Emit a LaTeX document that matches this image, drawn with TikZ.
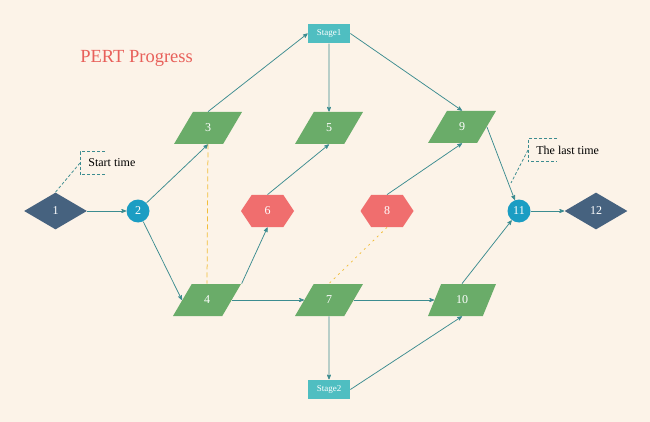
\documentclass[tikz,border=0pt]{standalone}
\usepackage{fontspec}
\setmainfont{Liberation Serif}
\usetikzlibrary{arrows,shapes.geometric,shapes.symbols}
\definecolor{bgcream}{HTML}{FCF3E8}
\definecolor{navyend}{HTML}{46627F}
\definecolor{bluering}{HTML}{1B9DC3}
\definecolor{taskgreen}{HTML}{6AAC69}
\definecolor{critred}{HTML}{F06E6E}
\definecolor{stageteal}{HTML}{4FBEC1}
\definecolor{edgeteal}{HTML}{3C8C90}
\definecolor{slackgold}{HTML}{F2BE3A}
\definecolor{titlered}{HTML}{E8605A}

\begin{document}
\begin{tikzpicture}[x=1pt,y=-1pt,->,>=stealth',line width=0.75pt,
  every edge/.style={draw=edgeteal,line width=0.75pt},
  num/.style={text=white,font=\fontsize{12}{14}\selectfont,inner sep=0pt},
  end node/.style={num,diamond,fill=navyend,minimum width=63pt,minimum height=37pt},
  event node/.style={num,circle,fill=bluering,minimum size=23pt},
  task node/.style={num,trapezium,trapezium left angle=65,trapezium right angle=115,
    trapezium stretches=true,fill=taskgreen,minimum width=68pt,minimum height=32pt},
  crit node/.style={num,signal,signal to=west and east,signal pointer angle=113,
    fill=critred,minimum width=53pt,minimum height=32pt},
  stage node/.style={rectangle,fill=stageteal,text=white,inner sep=0pt,
    minimum width=42pt,minimum height=19.5pt,font=\fontsize{9}{10}\selectfont},
  slack/.style={-,draw=slackgold,line width=0.75pt},
  callout/.style={-,draw=edgeteal,line width=0.75pt,dash pattern=on 3pt off 2pt},
  note/.style={anchor=west,inner ysep=0pt,inner xsep=8pt,minimum height=22pt,
    font=\fontsize{12}{14}\selectfont}]

  \fill[bgcream] (0,0) rectangle (650,422);
  \useasboundingbox (0,0) rectangle (650,422);

  \node[text=titlered,font=\fontsize{18.5}{22}\selectfont,anchor=base west,inner sep=0pt]
    (title) at (80,63) {PERT Progress};

  \node[end node]   (1) at (55.5,211) {1};
  \node[event node] (2) at (138,211) {2};
  \node[task node]  (3) at (208,128) {3};
  \node[task node]  (4) at (207,300) {4};
  \node[task node]  (5) at (329,128) {5};
  \node[crit node]  (6) at (267.5,211) {6};
  \node[task node]  (7) at (329,300) {7};
  \node[crit node]  (8) at (387,211) {8};
  \node[task node]  (9) at (462,127) {9};
  \node[task node]  (10) at (462,300) {10};
  \node[event node] (11) at (519,211) {11};
  \node[end node]   (12) at (596,211) {12};
  \node[stage node] (s1) at (329,33.5) {Stage1};
  \node[stage node] (s2) at (329,389.5) {Stage2};

  \path
    (1) edge (2)
    (2) edge (3.south)
    (2) edge (4.left side)
    (3.north) edge (s1.west)
    (s1) edge (5)
    (s1.east) edge (9.north)
    (4.top right corner) edge (6.south)
    (6.north) edge (5.south)
    (4.right side) edge (7.left side)
    (7.right side) edge (10.left side)
    (7) edge (s2)
    (s2.east) edge (10.south)
    (8.north) edge (9.south)
    (9.right side) edge (11)
    (10.north) edge (11)
    (11) edge (12);

  % dummy activities
  \draw[slack,dash pattern=on 5pt off 3pt] (3.south) -- (4.north);
  \draw[slack,dash pattern=on 2pt off 4pt] (8.south) -- (7.north);

  % notes
  \node[note] (start) at (80,163) {Start time};
  \draw[callout] ([xshift=25pt]start.north west) -- (start.north west)
    -- (start.south west) -- ([xshift=25pt]start.south west);
  \draw[callout] (start.west) -- (1.north);

  \node[note] (last) at (528,150) {The last time};
  \coordinate (last tip) at (511,183);
  \draw[callout] ([xshift=29pt]last.north west) -- (last.north west)
    -- (last.south west) -- ([xshift=29pt]last.south west);
  \draw[callout] (last.west) -- (last tip);
\end{tikzpicture}
\end{document}
